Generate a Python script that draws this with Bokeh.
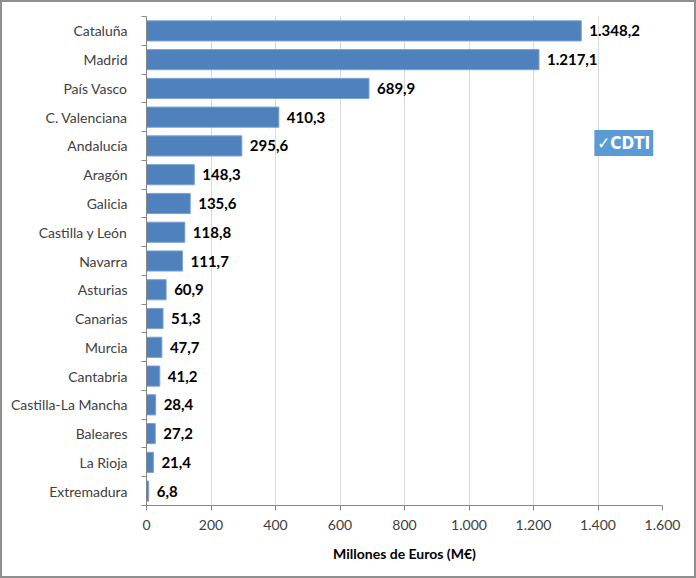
from bokeh.plotting import figure
from bokeh.models import ColumnDataSource, Range1d, FixedTicker, Label, LabelSet
from bokeh.core.properties import value
from bokeh.embed import file_html
from bokeh.resources import INLINE

regions = ["Cataluña", "Madrid", "País Vasco", "C. Valenciana", "Andalucía", "Aragón",
           "Galicia", "Castilla y León", "Navarra", "Asturias", "Canarias", "Murcia",
           "Cantabria", "Castilla-La Mancha", "Baleares", "La Rioja", "Extremadura"]
values = [1348.2, 1217.1, 689.9, 410.3, 295.6, 148.3, 135.6, 118.8, 111.7, 60.9,
          51.3, 47.7, 41.2, 28.4, 27.2, 21.4, 6.8]
x_ticks = [0, 200, 400, 600, 800, 1000, 1200, 1400, 1600]
x_tick_labels = ["0", "200", "400", "600", "800", "1.000", "1.200", "1.400", "1.600"]
x_title = "Millones de Euros (M€)"


def fmt_es(v):
    s = f"{v:,.1f}"
    return s.replace(",", "X").replace(".", ",").replace("X", ".")


n = len(regions)
pos = list(range(n))
src = ColumnDataSource(dict(y=pos, v=values, lab=[fmt_es(v) for v in values]))

FONT = "Lato"

p = figure(width=696, height=578, output_backend="svg", toolbar_location=None,
           x_range=Range1d(0, 1600), y_range=Range1d(n - 0.5, -0.5),
           min_border_left=144, min_border_right=36, min_border_top=14, min_border_bottom=75,
           styles={"border": "2px solid #8f8f8f", "box-sizing": "border-box"})
p.outline_line_color = None
p.background_fill_color = "white"
p.border_fill_color = "white"

p.hbar(y="y", right="v", left=0, height=0.7, source=src,
       fill_color="#4f81bd", line_color="#7aa2d4", line_width=1)

p.add_layout(LabelSet(x="v", y="y", text="lab", source=src, x_offset=8,
                      text_align="left", text_baseline="middle",
                      text_font=value(FONT), text_font_size="15px", text_font_style="bold",
                      text_color="black"))

# x axis
p.xaxis.ticker = FixedTicker(ticks=x_ticks)
p.xaxis.major_label_overrides = {t: l for t, l in zip(x_ticks, x_tick_labels)}
p.xaxis.axis_label = x_title
p.xaxis.axis_label_text_font = FONT
p.xaxis.axis_label_text_font_size = "14px"
p.xaxis.axis_label_text_font_style = "bold"
p.xaxis.axis_label_text_color = "black"
p.xaxis.axis_label_standoff = 12
p.xaxis.major_label_text_font = FONT
p.xaxis.major_label_text_font_size = "14px"
p.xaxis.major_label_text_color = "#404040"
p.xaxis.major_label_standoff = 9
p.xaxis.major_tick_in = 0
p.xaxis.major_tick_out = 5
p.xaxis.minor_tick_line_color = None
p.xaxis.axis_line_color = "#868686"
p.xaxis.major_tick_line_color = "#868686"

# y axis
bounds = [i - 0.5 for i in range(n + 1)]
p.yaxis.ticker = FixedTicker(ticks=pos, minor_ticks=bounds)
p.yaxis.major_label_overrides = {i: r for i, r in enumerate(regions)}
p.yaxis.major_label_text_font = FONT
p.yaxis.major_label_text_font_size = "14px"
p.yaxis.major_label_text_color = "#404040"
p.yaxis.major_tick_in = 0
p.yaxis.major_tick_out = 0
p.yaxis.major_label_standoff = 14
p.yaxis.minor_tick_in = 0
p.yaxis.minor_tick_out = 5
p.yaxis.minor_tick_line_color = "#868686"
p.yaxis.axis_line_color = "#868686"

p.xgrid.grid_line_color = "#d9d9d9"
p.ygrid.grid_line_color = None

# logo
p.add_layout(Label(x=1480, y=3.9, text="✓CDTI", text_align="center", text_baseline="middle",
                   text_font="DejaVu Sans Condensed", text_font_size="17px",
                   text_font_style="bold", text_color="white",
                   background_fill_color="#5b9bd5", border_line_color=None,
                   padding=3))

open("out.html", "w").write(file_html(p, INLINE))
